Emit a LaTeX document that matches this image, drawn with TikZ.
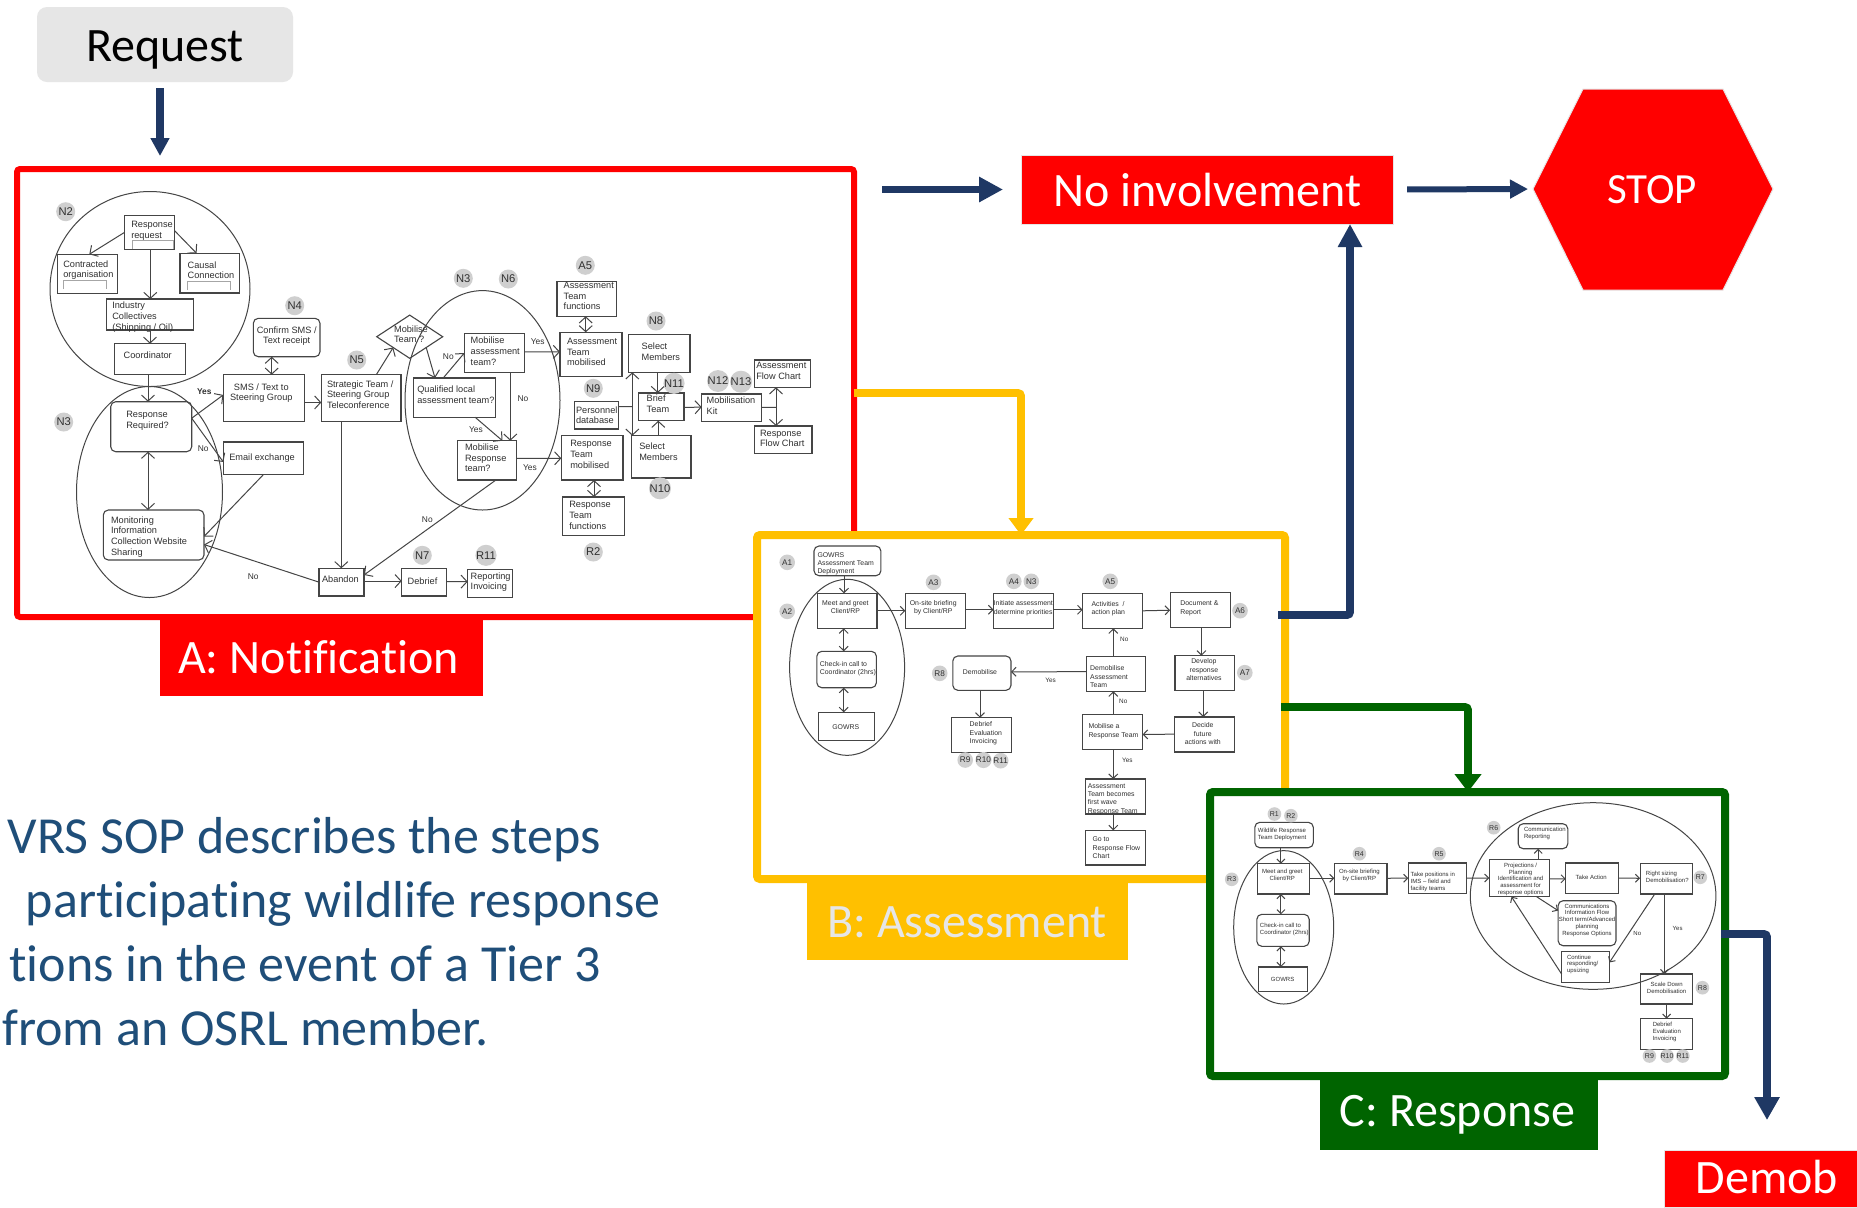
\documentclass[tikz,border=0pt]{standalone}
\usepackage{fontspec}
\setmainfont{Liberation Sans}
\newfontfamily\car[Ligatures=NoCommon]{Carlito}
\usetikzlibrary{arrows.meta,calc,shapes.geometric}
\definecolor{ln}{HTML}{454545}
\definecolor{txt}{HTML}{303030}
\definecolor{bad}{HTML}{CFCFCF}
\definecolor{navy}{HTML}{1F3864}
\definecolor{yel}{HTML}{FFC000}
\definecolor{grn}{HTML}{006400}
\definecolor{para}{HTML}{1F4E79}
\definecolor{rq}{HTML}{E6E6E6}
\newcommand{\ptT}[2]{($(#1.north west)!#2!(#1.north east)$)}
\newcommand{\ptB}[2]{($(#1.south west)!#2!(#1.south east)$)}
\newcommand{\ptL}[2]{($(#1.north west)!#2!(#1.south west)$)}
\newcommand{\ptR}[2]{($(#1.north east)!#2!(#1.south east)$)}
\newcommand{\bx}[9][]{%
  \pgfmathsetmacro\bw{(#5-#3)*0.5}\pgfmathsetmacro\bh{(#6-#4)*0.5}%
  \pgfmathsetmacro\mydx{(#7-(#3+#5)/2)*0.5}\pgfmathsetmacro\mydy{((#4+#6)/2-#8)*0.5}%
  \node[box,minimum width=\bw pt,minimum height=\bh pt,#1] (#2) at ({(#3+#5)/2},{(#4+#6)/2})
   {\raisebox{\dimexpr\mydy pt-1.9pt\relax}[0pt][0pt]{\makebox[0pt][l]{\hspace*{\mydx pt}\begin{tabular}{@{}l@{}}#9\end{tabular}}}};}
\newcommand{\bxc}[9][]{%
  \pgfmathsetmacro\bw{(#5-#3)*0.5}\pgfmathsetmacro\bh{(#6-#4)*0.5}%
  \pgfmathsetmacro\mydx{(#7-(#3+#5)/2)}\pgfmathsetmacro\mydy{((#4+#6)/2-#8)*0.5}%
  \node[box,minimum width=\bw pt,minimum height=\bh pt,#1] (#2) at ({(#3+#5)/2},{(#4+#6)/2})
   {\raisebox{\dimexpr\mydy pt-1.9pt\relax}[0pt][0pt]{\makebox[0pt][c]{\hspace*{\mydx pt}\begin{tabular}{@{}c@{}}#9\end{tabular}}}};}
\newcommand{\lab}[9][]{%
  \pgfmathsetmacro\bw{(#5-#3)*0.5}\pgfmathsetmacro\bh{(#6-#4)*0.5}%
  \pgfmathsetmacro\mydx{(#7-(#3+#5)/2)}\pgfmathsetmacro\mydy{((#4+#6)/2-#8)*0.5}%
  \node[draw=none,inner sep=0,outer sep=0,minimum width=\bw pt,minimum height=\bh pt,#1] (#2) at ({(#3+#5)/2},{(#4+#6)/2})
   {\raisebox{\mydy pt}[0pt][0pt]{\makebox[0pt][c]{\hspace*{\mydx pt}#9}}};}
\newcommand{\bd}[4]{\node[badge] (#1) at (#2,#3) {#4};}
\newcommand{\lb}[4]{\node[lbl] (#1) at (#2,#3) {#4};}
\tikzset{
  box/.style={draw=ln,line width=.55pt,inner sep=0,outer sep=0,text=txt},
  rc/.style={rounded corners=2.5pt},
  bracket/.style={draw=gray!70,line width=.4pt},
  oval/.style={ellipse,draw=ln,line width=.5pt,inner sep=0,outer sep=0},
  badge/.style={circle,fill=bad,inner sep=0,outer sep=0,text=txt},
  lbl/.style={inner sep=0,outer sep=0,text=txt},
  fl/.style={draw=ln,line width=.5pt},
  frame/.style={fill=white,inner sep=0,outer sep=0,rounded corners=1.5pt},
  bigline/.style={line width=3.9pt,rounded corners=1.5pt},
}
\begin{document}
\begin{tikzpicture}[x=0.5pt,y=-0.5pt]
\useasboundingbox (0,0) rectangle (1857,1207);
\fill[white] (0,0) rectangle (1857,1207);

% Outer request / stop
\lab[fill=rq,rounded corners=5pt]{req}{37}{7}{293}{82}{165}{61}{\car\fontsize{24}{28}\selectfont Request}
\lab[fill=red,draw=rq,line width=.5pt,text=white]{no}{1021}{155}{1393}{224}{1207.5}{206}{\car\fontsize{24}{28}\selectfont No involvement}
\fill[red,draw=rq,line width=.5pt] (1533,189)--(1583,89)--(1723,89)--(1773,189)--(1723,290)--(1583,290)--cycle;
\node[text=white,inner sep=0,font=\car\fontsize{21.5}{25}\selectfont] (stop) at (1652,190) {STOP};
\coordinate (stopL) at (1533,189);

% ---------- A frame
\node[frame,draw=red,line width=3pt,minimum width=418.5pt,minimum height=224pt] (fa) at (435.5,393) {};
\lab[fill=red,text=white]{la}{160}{618}{483}{696}{318.5}{673}{\car\fontsize{24}{28}\selectfont A: Notification}

\begin{scope}[every node/.append style={font=\fontsize{4.6}{5.3}\selectfont},>={Straight Barb[length=3pt,width=6.5pt]}]
\node[oval,minimum width=100pt,minimum height=97.5pt] (e1) at (150,289) {};
\node[oval,minimum width=73pt,minimum height=105.5pt] (e2) at (149.5,492) {};
\node[oval,minimum width=77.5pt,minimum height=109.7pt] (e3) at (482.5,400.3) {};
\bx{rr}{124.3}{215.7}{174.7}{249.3}{131.3}{229.8}{Response\\request}
\bx{co}{57.3}{254.3}{117.3}{293.7}{63.3}{269}{Contracted\\organisation}
\bx{ca}{180}{253.3}{239.3}{293}{187.7}{270.2}{Causal\\Connection}
\bx{ind}{106.3}{299}{193.3}{330}{112.3}{316}{Industry\\Collectives\\(Shipping / Oil)}
\bx{crd}{114.7}{343.7}{185.3}{374.7}{123.7}{355.3}{Coordinator}
\bx[rc]{rq1}{110.7}{401.7}{191.7}{451.7}{126.3}{419.7}{Response\\Required?}
\bx[rc]{mon}{103.3}{510}{204}{560}{111}{535.8}{Monitoring\\ Information\\Collection Website\\Sharing}
\bxc{sms}{223.3}{374.7}{304.3}{421.7}{261.3}{392}{SMS / Text to\\Steering Group}
\bx{em}{223.3}{442}{303.3}{474.7}{229.3}{456.7}{Email exchange}
\bxc[rc]{cf}{253.3}{318.3}{320}{356.7}{286.7}{335}{Confirm SMS /\\Text receipt}
\bx{st}{321.3}{374.7}{401}{421.7}{327}{394.3}{Strategic Team /\\Steering Group\\Teleconference}
\node[box,diamond,minimum width=33pt,minimum height=21.6pt] (mob) at (409.7,336.7) {\raisebox{\dimexpr 1.3pt-1.9pt\relax}[0pt][0pt]{\makebox[0pt][l]{\hspace*{-7.8pt}\begin{tabular}{@{}l@{}}Mobilise\\Team ?\end{tabular}}}};
\bx{ab}{319}{568.3}{364}{596}{322}{579}{Abandon}
\bx{db}{401.7}{568.3}{446.3}{596}{407.7}{581}{Debrief}
\bx{rp}{467.7}{569.3}{512.7}{597.3}{470.7}{581}{Reporting\\Invoicing}
\bx{ma}{464.3}{333.3}{524.3}{372.7}{470.7}{351}{Mobilise\\assessment\\team?}
\bx{ql}{413.7}{378}{495.7}{417.3}{417.3}{394.3}{Qualified local\\assessment team?}
\bx{mr}{457.3}{440.7}{516.7}{480}{465}{457.7}{Mobilise\\Response\\team?}
\bx{atf}{557}{281.3}{616.7}{316.3}{563.7}{295.7}{Assessment\\Team\\functions}
\bx{atm}{560}{332.3}{622}{376.7}{567}{351.7}{Assessment\\Team\\mobilised}
\bx{rtm}{561.3}{435.7}{623}{480}{570.3}{454}{Response\\Team\\mobilised}
\bx{rtf}{562.3}{497}{624.3}{535.3}{569.3}{515}{Response\\Team\\functions}
\bx{s1}{628.3}{334.3}{690}{372.3}{641.7}{351.7}{Select\\Members}
\bx{s2}{631.7}{435.7}{691}{478}{639.3}{451.7}{Select\\Members}
\bx{pd}{574.3}{401.7}{618.7}{429}{576}{415}{Personnel\\database}
\bx{bt}{638.7}{393}{684}{420.7}{646.7}{403.7}{Brief\\Team}
\bx{kit}{701.7}{394}{761.3}{421.3}{706.7}{405.7}{Mobilisation\\Kit}
\bx{afc}{754.7}{360}{810.3}{387.3}{756.3}{370.7}{Assessment\\Flow Chart}
\bx{rfc}{754.7}{426}{812}{453.3}{760}{438}{Response\\Flow Chart}
% little grey brackets
\draw[bracket] (132,249) |- (173,240) -- (173,249);
\draw[bracket] (63.3,289) |- (106,280) -- (106,289);
\draw[bracket] (187.7,290) |- (230,281.7) -- (230,290);
% connectors
\draw[fl,->] (rr.west) -- ($(co.north)+(2,0)$);
\draw[fl,->] \ptR{rr}{.45} -- \ptT{ca}{.28};
\draw[fl,->] (150.3,0 |- rr.south) -- (150.3,0 |- ind.north);
\draw[fl,->] (150,0 |- ind.south) -- (150,0 |- crd.north);
\draw[fl,->] (148,0 |- crd.south) -- (148,0 |- rq1.north);
\draw[fl,<->] (148,0 |- rq1.south) -- (148,0 |- mon.north);
\draw[fl,->] \ptR{rq1}{.33} -- \ptL{sms}{.43};
\draw[fl,->] \ptR{rq1}{.33} -- \ptL{em}{.61};
\draw[fl,->] (em.south) -- \ptR{mon}{.53};
\draw[fl,->] (ab.west) -- \ptR{mon}{.69};
\draw[fl,<->] (271.7,0 |- cf.south) -- (271.7,0 |- sms.north);
\draw[fl,->] \ptR{sms}{.59} -- \ptL{st}{.59};
\draw[fl,->] (341.3,0 |- st.south) -- (341.3,0 |- ab.north);
\draw[fl,->] \ptT{st}{.69} -- (mob.south west);
\draw[fl,->] (mob.south east) -- \ptT{ql}{.26};
\draw[fl,->] \ptT{ql}{.36} -- (ma.west);
\draw[fl,->] \ptR{ma}{.47} -- \ptL{atm}{.44};
\draw[fl,->] (510.3,0 |- ma.south) -- (510.3,0 |- mr.north);
\draw[fl,->] \ptB{ql}{.75} -- \ptT{mr}{.76};
\draw[fl,->] \ptR{mr}{.45} -- \ptL{rtm}{.51};
\draw[fl,->] \ptB{mr}{.65} -- \ptR{ab}{.24};
\draw[fl,<->] (585.7,0 |- atf.south) -- (585.7,0 |- atm.north);
\draw[fl,<->] (594,0 |- rtm.south) -- (594,0 |- rtf.north);
\coordinate (j1) at (632.3,406.7);
\coordinate (j2) at (776,407.3);
\draw[fl] \ptR{pd}{.18} -- (j1);
\draw[fl,<->] (632.3,0 |- s1.south) -- (632.3,0 |- s2.north);
\draw[fl,->] (657.7,0 |- s1.south) -- (657.7,0 |- bt.north);
\draw[fl,->] (658.3,0 |- s2.north) -- (658.3,0 |- bt.south);
\draw[fl,->] \ptR{bt}{.52} -- \ptL{kit}{.48};
\draw[fl] \ptR{kit}{.49} -- (j2);
\draw[fl,<->] (776,0 |- afc.south) -- (776,0 |- rfc.north);
\draw[fl,->] \ptR{ab}{.46} -- \ptL{db}{.46};
\draw[fl,->] \ptR{db}{.48} -- \ptL{rp}{.44};
\end{scope}
\begin{scope}[every node/.append style={font=\fontsize{5.6}{6}\selectfont},badge/.append style={minimum size=9.5pt}]
\bd{n2}{65.7}{211.7}{N2}\bd{n3a}{63.7}{422}{N3}\bd{n4}{294.7}{305.7}{N4}\bd{n5}{356.7}{360}{N5}
\bd{n3b}{463.3}{278.3}{N3}\bd{n6}{508.3}{279}{N6}\bd{a5}{585.3}{265.3}{A5}\bd{n8}{656}{321}{N8}
\bd{n9}{593.3}{388.3}{N9}\bd{n11}{674}{383.3}{N11}\bd{n12}{718}{381}{N12}\bd{n13}{741}{381.7}{N13}
\bd{n10}{660}{488.3}{N10}\bd{r2}{593.3}{552}{R2}\bd{n7}{422.3}{555.3}{N7}\bd{r11}{486}{555.3}{R11}
\end{scope}
\begin{scope}[every node/.append style={font=\fontsize{4.2}{5}\selectfont}]
\node[lbl,font=\bfseries\fontsize{4.2}{5}\selectfont] (ly1) at (204.3,391.7) {Yes};
\lb{ln1}{203.3}{449}{No}\lb{ln2}{253.3}{576.7}{No}\lb{ln3}{427.3}{519.3}{No}\lb{ln4}{448.3}{356.3}{No}\lb{ln5}{523}{399}{No}
\lb{ly2}{537.7}{341.7}{Yes}\lb{ly3}{476}{429.7}{Yes}\lb{ly4}{530}{467.3}{Yes}
\end{scope}

% ---------- B frame
\node[frame,draw=yel,line width=4pt,minimum width=264pt,minimum height=172pt] (fb) at (1021,707) {};
\lab[fill=yel,text=rq]{lb}{807}{881}{1128}{960}{967}{937}{\car\fontsize{24}{28}\selectfont B: Assessment}

\begin{scope}[every node/.append style={font=\fontsize{3.45}{4.15}\selectfont},>={Straight Barb[length=2.2pt,width=4.5pt]}]
\node[oval,minimum width=57.5pt,minimum height=88pt] (be) at (847.1,667.3) {};
\bx[rc]{b1}{814}{546}{880.9}{575.7}{817.5}{562.7}{GOWRS\\Assessment Team\\Deployment}
\bxc{b2}{817.5}{593.3}{877}{628.3}{845.4}{606.3}{Meet and greet\\Client/RP}
\bx[rc]{b3}{816.8}{651.3}{876.4}{687.7}{819.9}{667.7}{Check-in call to\\Coordinator (2hrs)}
\bxc{b4}{818.2}{712.3}{874.3}{740.7}{845.7}{727}{GOWRS}
\bxc{b5}{905.3}{593.3}{965.2}{628.3}{933.2}{606.7}{On-site briefing\\by Client/RP}
\bx{b6}{993.5}{593.3}{1053.7}{628.3}{993.8}{607}{Initiate assessment\\determine priorities}
\bx{b7}{1082.6}{593.3}{1142.2}{628.3}{1091.6}{607.7}{Activities \ /\\action plan}
\bx{b8}{1170.1}{592.7}{1230.4}{627.7}{1180.4}{607}{Document \&\\Report}
\bxc{b9}{1175}{655.7}{1234.9}{690.3}{1203.9}{669.3}{Develop\\response\\alternatives}
\bxc{b10}{1174.2}{717}{1234.2}{752}{1202.8}{733.3}{Decide\\future\\actions with}
\bx{b11}{1082.6}{714.7}{1142.6}{749.3}{1088.5}{730}{Mobilise a\\Response Team}
\bx{b12}{1086.1}{656.3}{1145.7}{691.3}{1090.2}{676.3}{Demobilise\\Assessment\\Team}
\bxc[rc]{b13}{952.8}{656}{1011}{690.3}{980}{671.3}{Demobilise}
\bx{b14}{951.8}{717.7}{1011.7}{752.7}{969.7}{732.3}{Debrief\\Evaluation\\Invoicing}
\bx{b15}{1085.7}{779}{1145.7}{814}{1087.8}{797.7}{Assessment\\Team becomes\\first wave\\Response Team}
\bx{b16}{1085.7}{830.3}{1145.7}{865}{1092.6}{847.3}{Go to\\Response Flow\\Chart}
\draw[fl,->] (844,0 |- b1.south) -- (844,0 |- b2.north);
\draw[fl,<->] (843.7,0 |- b2.south) -- (843.7,0 |- b3.north);
\draw[fl,<->] (843.7,0 |- b3.south) -- (843.7,0 |- b4.north);
\draw[fl,->] \ptR{b2}{.5} -- \ptL{b5}{.5};
\draw[fl,->] \ptR{b5}{.47} -- \ptL{b6}{.47};
\draw[fl,->] \ptR{b6}{.47} -- \ptL{b7}{.47};
\draw[fl,->] \ptR{b7}{.5} -- \ptL{b8}{.5};
\draw[fl,->] (1201.4,0 |- b8.south) -- (1201.4,0 |- b9.north);
\draw[fl,->] (1203.2,0 |- b9.south) -- (1203.2,0 |- b10.north);
\draw[fl,->] \ptL{b10}{.49} -- \ptR{b11}{.57};
\draw[fl,->] (1113.3,0 |- b11.north) -- (1113.3,0 |- b12.south);
\draw[fl,->] (1113.3,0 |- b12.north) -- (1113.3,0 |- b7.south);
\draw[fl,->] \ptL{b12}{.44} -- \ptR{b13}{.46};
\draw[fl,->] (980,0 |- b13.south) -- (980,0 |- b14.north);
\draw[fl,->] (1113.3,0 |- b11.south) -- (1113.3,0 |- b15.north);
\draw[fl,->] (1113.3,0 |- b15.south) -- (1113.3,0 |- b16.north);
\end{scope}
\begin{scope}[every node/.append style={font=\fontsize{4.1}{5}\selectfont},badge/.append style={minimum size=7.8pt}]
\bd{ba1}{787.2}{562.3}{A1}\bd{ba2}{787.2}{611.3}{A2}\bd{ba3}{933.5}{582.3}{A3}\bd{ba4}{1013.8}{581.3}{A4}
\bd{bn3}{1031.3}{581.3}{N3}\bd{ba5}{1110.2}{581.3}{A5}\bd{ba6}{1240}{610.7}{A6}\bd{ba7}{1244.8}{672.7}{A7}
\bd{br8}{939.7}{673.3}{R8}\bd{br9}{965.2}{760}{R9}\bd{br10}{983.5}{760}{R10}\bd{br11}{1000.7}{760.7}{R11}
\end{scope}
\begin{scope}[every node/.append style={font=\fontsize{3.2}{4}\selectfont}]
\lb{bl1}{1050.6}{680.7}{Yes}\lb{bl2}{1124.3}{639.7}{No}\lb{bl3}{1123.3}{701}{No}\lb{bl4}{1127.4}{760.7}{Yes}
\end{scope}

% ---------- C frame
\node[frame,draw=grn,line width=4pt,minimum width=257.5pt,minimum height=142pt] (fc) at (1467.5,934) {};
\lab[fill=grn,text=white]{lc}{1320}{1078}{1598}{1150}{1457.5}{1126}{\car\fontsize{24}{28}\selectfont C: Response}

\begin{scope}[every node/.append style={font=\fontsize{3}{3.4}\selectfont},>={Straight Barb[length=2pt,width=4pt]}]
\node[oval,minimum width=50pt,minimum height=76.7pt] (ce1) at (1283.7,927.3) {};
\node[oval,minimum width=122.8pt,minimum height=93.3pt] (ce2) at (1593.1,896) {};
\bx[rc]{c1}{1254.8}{822.3}{1313.3}{847.7}{1257.9}{833}{Wildlife Response\\Team Deployment}
\bxc{c2}{1257.5}{863.7}{1309.8}{894}{1282.3}{874}{Meet and greet\\Client/RP}
\bx[rc]{c3}{1256.8}{914.3}{1309.2}{946.3}{1259.9}{928}{Check-in call to\\Coordinator (2hrs)}
\bxc{c4}{1258.5}{967}{1307.4}{991.7}{1282.6}{979}{GOWRS}
\bxc{c5}{1334.3}{863.7}{1387}{894}{1359.4}{874}{On-site briefing\\by Client/RP}
\bx{c6}{1408.3}{863}{1466.2}{893.3}{1410.7}{880.7}{Take positions in\\IMS – field and\\facility teams}
\bx[rc]{c7}{1518.2}{823.7}{1567.8}{848.7}{1524}{832.3}{Communication\\Reporting}
\bxc{c8}{1489.3}{859.3}{1549.2}{896.7}{1520.6}{878.3}{Projections /\\Planning\\Identification and\\assessment for\\response options}
\bxc{c9}{1565.7}{863}{1618.4}{893.3}{1591.2}{877.3}{Take Action}
\bx{c10}{1640.1}{863.7}{1692.4}{894}{1645.9}{876}{Right sizing\\Demobilisation?}
\bxc[rc]{c11}{1558.1}{900.7}{1616}{945.7}{1587}{919}{Communications\\Information Flow\\Short term/Advanced\\planning\\Response Options}
\bx{c12}{1561.6}{951.7}{1609.4}{982.3}{1567}{963.3}{Continue\\responding/\\upsizing}
\bxc{c13}{1640.1}{974}{1692.4}{1004}{1666.6}{987.7}{Scale Down\\Demobilisation}
\bx{c14}{1640.1}{1018.7}{1692.4}{1049.3}{1652.8}{1030.7}{Debrief\\Evaluation\\Invoicing}
\draw[fl,->] (1280.9,0 |- c1.south) -- (1280.9,0 |- c2.north);
\draw[fl,<->] (1280.9,0 |- c2.south) -- (1280.9,0 |- c3.north);
\draw[fl,<->] (1280.9,0 |- c3.south) -- (1280.9,0 |- c4.north);
\draw[fl,->] \ptR{c2}{.48} -- \ptL{c5}{.48};
\draw[fl,->] \ptR{c5}{.48} -- \ptL{c6}{.5};
\draw[fl,->] \ptR{c6}{.5} -- \ptL{c8}{.5};
\draw[fl,->] (1538.2,0 |- c8.north) -- (1538.2,0 |- c7.south);
\draw[fl,->] \ptR{c8}{.52} -- \ptL{c9}{.52};
\draw[fl,->] \ptR{c9}{.5} -- \ptL{c10}{.48};
\draw[fl,->] \ptB{c8}{.79} -- \ptL{c11}{.22};
\draw[fl,->] \ptB{c10}{.28} -- \ptR{c12}{.35};
\draw[fl,->] \ptL{c12}{.73} -- \ptB{c8}{.37};
\draw[fl,->] (1664.5,0 |- c10.south) -- (1664.5,0 |- c13.north);
\draw[fl,->] (1666.6,0 |- c13.south) -- (1666.6,0 |- c14.north);
\end{scope}
\begin{scope}[every node/.append style={font=\fontsize{3.5}{4}\selectfont},badge/.append style={minimum size=6.8pt}]
\bd{cr1}{1274.4}{814}{R1}\bd{cr2}{1290.9}{815.7}{R2}\bd{cr3}{1231.7}{879.3}{R3}\bd{cr4}{1359.4}{853.7}{R4}
\bd{cr5}{1439}{853.7}{R5}\bd{cr6}{1493.7}{827.7}{R6}\bd{cr7}{1700.3}{877.3}{R7}\bd{cr8}{1702.4}{987.7}{R8}
\bd{cr9}{1649.4}{1056}{R9}\bd{cr10}{1667}{1056}{R10}\bd{cr11}{1682.8}{1056}{R11}
\end{scope}
\begin{scope}[every node/.append style={font=\fontsize{3}{4}\selectfont}]
\lb{cl1}{1637.3}{933}{No}\lb{cl2}{1677.6}{928.7}{Yes}
\end{scope}

\lab[fill=red,draw=rq,line width=.5pt,text=white]{dm}{1664}{1150}{1857}{1207}{1767}{1193}{\car\fontsize{24}{28}\selectfont Demob}

% Big arrows
\draw[bigline,draw=navy,line width=3.6pt,-{Triangle[length=9pt,width=9pt]},shorten <=3pt,shorten >=6.5pt] (160,0 |- req.south) -- (160,0 |- fa.north);
\draw[bigline,draw=navy,-{Triangle[length=12pt,width=12pt]},shorten <=14pt,shorten >=9pt] (fa.east |- no.west) -- (no.west);
\draw[bigline,draw=navy,line width=3pt,-{Triangle[length=9pt,width=9pt]},shorten <=7pt,shorten >=2.5pt] (no.east) -- (stopL);
\draw[bigline,draw=yel,-{Triangle[length=8.5pt,width=12pt]}] (fa.east |- 0,393) -| (1021,0 |- fb.north);
\draw[bigline,draw=navy,-{Triangle[length=11.5pt,width=11.5pt]}] ($(fb.east |- 0,615)+(-7,0)$) -| (1350,0 |- no.south);
\draw[bigline,draw=grn,-{Triangle[length=9pt,width=13pt]}] ($(fb.east |- 0,707)+(-4,0)$) -| (1468,0 |- fc.north);
\draw[bigline,draw=navy,-{Triangle[length=11.5pt,width=12pt]},shorten >=15pt] ($(fc.east |- 0,934)+(-4,0)$) -| (1767,0 |- dm.north);

% Paragraph
\begin{scope}[every node/.style={anchor=base east,inner sep=0,text=para,font=\car\fontsize{26}{30}\selectfont}]
\node (p1) at (601,853) {VRS SOP describes the steps};
\node (p2) at (661,917) {participating wildlife response};
\node (p3) at (601,981) {tions in the event of a Tier 3};
\node (p4) at (489,1045) {from an OSRL member.};
\end{scope}
\end{tikzpicture}
\end{document}
